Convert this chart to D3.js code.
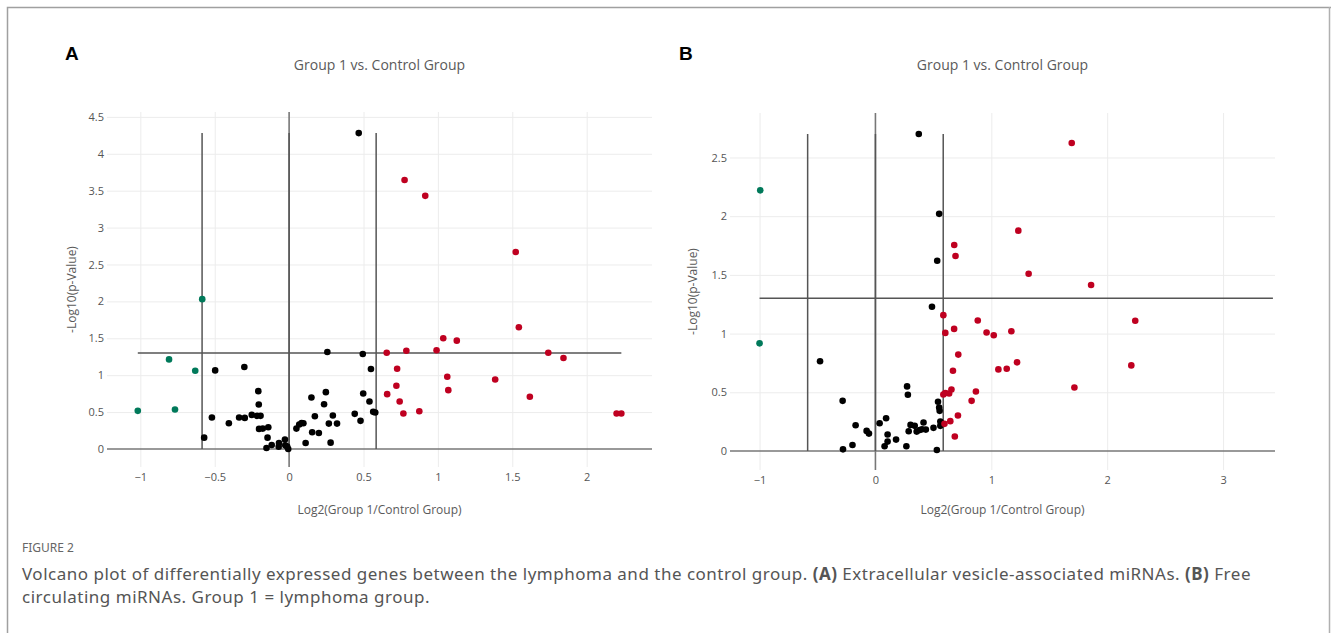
<!DOCTYPE html>
<html>
<head>
<meta charset="utf-8">
<script src="https://cdn.jsdelivr.net/npm/d3@7"></script>
<style>
  body { margin: 0; background: #fff; }
  svg { display: block; }
</style>
</head>
<body>
<div id="fig"></div>
<script>
// panel A: extracellular vesicle-associated miRNAs
var aRed = [[0.776,3.645],[0.915,3.43],[1.523,2.67],[0.656,1.305],[0.726,1.087],[0.788,1.332],
  [0.721,0.856],[0.659,0.743],[0.743,0.643],[0.768,0.48],[0.875,0.512],[0.991,1.337],[1.036,1.5],
  [1.127,1.468],[1.063,0.979],[1.07,0.797],[1.385,0.942],[1.544,1.649],[1.618,0.707],[1.742,1.305],
  [1.844,1.232],[2.201,0.48],[2.233,0.48]];
var aGreen = [[-0.584,2.03],[-0.807,1.214],[-0.631,1.06],[-1.017,0.517],[-0.767,0.535]];
var aBlack = [[0.468,4.28],[-0.571,0.154],[-0.519,0.426],[-0.497,1.065],[-0.405,0.349],[-0.336,0.426],
  [-0.301,1.11],[-0.298,0.421],[-0.251,0.462],[-0.207,0.784],[-0.204,0.603],[-0.216,0.449],[-0.192,0.449],
  [-0.202,0.272],[-0.177,0.276],[-0.14,0.295],[-0.145,0.154],[-0.152,0.014],[-0.117,0.054],[-0.068,0.082],
  [-0.07,0.032],[-0.028,0.127],[-0.026,0.05],[-0.013,0.032],[-0.006,0.0],[0.049,0.276],[0.068,0.331],
  [0.084,0.353],[0.096,0.349],[0.111,0.082],[0.15,0.698],[0.155,0.227],[0.173,0.444],[0.2,0.217],
  [0.235,0.607],[0.247,0.77],[0.257,1.314],[0.267,0.344],[0.279,0.086],[0.294,0.453],[0.322,0.344],
  [0.441,0.476],[0.48,0.381],[0.495,1.287],[0.498,0.752],[0.54,0.643],[0.55,1.083],[0.565,0.503],
  [0.579,0.494]];

// panel B: free circulating miRNAs
var bRed = [[1.694,2.624],[1.233,1.877],[0.68,1.755],[0.691,1.661],[1.322,1.51],[1.861,1.414],
  [0.586,1.157],[0.883,1.111],[0.603,1.006],[0.679,1.04],[0.959,1.009],[1.021,0.986],[1.173,1.02],
  [2.242,1.109],[0.715,0.821],[0.669,0.684],[1.061,0.695],[1.133,0.701],[1.222,0.755],[2.208,0.729],
  [1.717,0.541],[0.656,0.524],[0.636,0.49],[0.586,0.481],[0.603,0.493],[0.867,0.507],[0.83,0.427],
  [0.712,0.302],[0.646,0.254],[0.596,0.231],[0.685,0.123]];
var bGreen = [[-0.994,2.22],[-1.0,0.917]];
var bBlack = [[0.374,2.70],[0.55,2.02],[0.533,1.62],[0.488,1.228],[-0.478,0.764],[-0.283,0.427],
  [-0.28,0.014],[-0.198,0.051],[-0.171,0.219],[-0.076,0.171],[-0.056,0.148],[0.036,0.236],[0.079,0.04],
  [0.092,0.279],[0.105,0.14],[0.105,0.08],[0.178,0.097],[0.267,0.04],[0.273,0.55],[0.28,0.479],
  [0.287,0.168],[0.303,0.222],[0.339,0.214],[0.356,0.165],[0.382,0.179],[0.402,0.185],[0.415,0.242],
  [0.435,0.182],[0.501,0.197],[0.53,0.009],[0.54,0.419],[0.55,0.37],[0.554,0.342],[0.56,0.251],
  [0.56,0.214],[0.57,0.236]];

var aXTicks = [-1, -0.5, 0, 0.5, 1, 1.5, 2];
var aYTicks = [0, 0.5, 1, 1.5, 2, 2.5, 3, 3.5, 4, 4.5];
var bXTicks = [-1, 0, 1, 2, 3];
var bYTicks = [0, 0.5, 1, 1.5, 2, 2.5];

var fcCut = Math.log2(1.5);      // fold-change threshold
var pCut = -Math.log10(0.05);    // p-value threshold
var aHLine = [-1.017, 2.233], aVTop = 4.28;
var bHLine = [-1.0, 3.43], bVTop = 2.70;

var W = 1331, H = 633;
var svg = d3.select("#fig").append("svg").attr("width", W).attr("height", H);

svg.append("path")
   .attr("d", "M7.5," + H + "V7.5H" + W)
   .attr("fill", "none").attr("stroke", "#a0a0a0").attr("stroke-width", 1.5);
svg.append("line").attr("x1", 1329.5).attr("x2", 1329.5).attr("y1", 7).attr("y2", H)
   .attr("stroke", "#b0b0b0").attr("stroke-width", 1.5);

var fmt = d3.format("~g");
var font = "'Open Sans', Verdana, sans-serif";

function panel(o) {
  var x = d3.scaleLinear().domain(o.xDom).range([o.left, o.right]);
  var y = d3.scaleLinear().domain(o.yDom).range([o.bottom, o.top]);
  var g = svg.append("g");

  // grid
  g.append("g").attr("transform", "translate(0," + o.bottom + ")")
    .call(d3.axisBottom(x).tickValues(o.xTicks).tickSize(-(o.bottom - o.top)).tickFormat(fmt).tickPadding(6))
    .call(function(s) {
      s.select(".domain").remove();
      s.selectAll(".tick line").attr("stroke", "#ececec").attr("stroke-width", 1)
        .filter(function(d) { return d === 0; }).remove();
      s.selectAll(".tick text").attr("fill", "#555").style("font-family", font).style("font-size", "11px");
    });
  g.append("g").attr("transform", "translate(" + o.left + ",0)")
    .call(d3.axisLeft(y).tickValues(o.yTicks).tickSize(-(o.right - o.left)).tickFormat(fmt).tickPadding(3))
    .call(function(s) {
      s.select(".domain").remove();
      s.selectAll(".tick line").attr("stroke", "#ececec").attr("stroke-width", 1)
        .filter(function(d) { return d === 0; }).remove();
      s.selectAll(".tick text").attr("fill", "#555").style("font-family", font).style("font-size", "11px");
    });

  // zero lines
  g.append("line").attr("x1", o.left).attr("x2", o.right).attr("y1", y(0)).attr("y2", y(0))
    .attr("stroke", "#777").attr("stroke-width", 1.6);
  g.append("line").attr("x1", x(0)).attr("x2", x(0)).attr("y1", o.top).attr("y2", o.bottom)
    .attr("stroke", "#777").attr("stroke-width", 1.6);

  // threshold lines
  var th = g.append("g").attr("stroke", "#555").attr("stroke-width", 1.5);
  [-fcCut, 0, fcCut].forEach(function(v) {
    th.append("line").attr("x1", x(v)).attr("x2", x(v)).attr("y1", y(0)).attr("y2", y(o.vTop));
  });
  th.append("line").attr("x1", x(o.hLine[0])).attr("x2", x(o.hLine[1])).attr("y1", y(pCut)).attr("y2", y(pCut));

  // points
  [[o.black, "#000"], [o.green, "#00795a"], [o.red, "#bf0020"]].forEach(function(s) {
    g.append("g").selectAll("circle").data(s[0]).enter().append("circle")
      .attr("cx", function(d) { return x(d[0]); })
      .attr("cy", function(d) { return y(d[1]); })
      .attr("r", 3.3).attr("fill", s[1]);
  });

  var cx = (o.left + o.right) / 2, cy = (o.top + o.bottom) / 2;
  g.append("text").attr("x", cx).attr("y", 70).attr("text-anchor", "middle")
    .style("font-family", font).style("font-size", "14px").attr("fill", "#5a5a5a").text(o.title);
  g.append("text").attr("x", cx).attr("y", 514).attr("text-anchor", "middle")
    .style("font-family", font).style("font-size", "12px").attr("fill", "#5a5a5a").text(o.xTitle);
  g.append("text").attr("transform", "translate(" + o.yTitleX + "," + cy + ") rotate(-90)")
    .attr("text-anchor", "middle")
    .style("font-family", font).style("font-size", "12px").attr("fill", "#5a5a5a").text(o.yTitle);
  g.append("text").attr("x", o.letterX).attr("y", 60)
    .style("font-family", "Arial, 'Liberation Sans', sans-serif").style("font-size", "19px")
    .style("font-weight", "bold").attr("fill", "#000").text(o.letter);
}

panel({ xDom: [-1.224, 2.439], yDom: [-0.244, 4.566], left: 107, right: 652, top: 112, bottom: 467,
  xTicks: aXTicks, yTicks: aYTicks, red: aRed, green: aGreen, black: aBlack,
  hLine: aHLine, vTop: aVTop, title: "Group 1 vs. Control Group", xTitle: "Log2(Group 1/Control Group)",
  yTitle: "-Log10(p-Value)", yTitleX: 76, letter: "A", letterX: 65 });
panel({ xDom: [-1.255, 3.448], yDom: [-0.162, 2.879], left: 730, right: 1275, top: 113, bottom: 470,
  xTicks: bXTicks, yTicks: bYTicks, red: bRed, green: bGreen, black: bBlack,
  hLine: bHLine, vTop: bVTop, title: "Group 1 vs. Control Group", xTitle: "Log2(Group 1/Control Group)",
  yTitle: "-Log10(p-Value)", yTitleX: 697, letter: "B", letterX: 679 });

// caption
var cap = svg.append("g").style("font-family", "'Noto Sans', 'Open Sans', sans-serif");
cap.append("text").attr("x", 22).attr("y", 552).attr("fill", "#666").style("font-size", "12px")
  .text("FIGURE 2");
var l1 = cap.append("text").attr("x", 22).attr("y", 580).attr("fill", "#555").style("font-size", "17px");
l1.append("tspan").text("Volcano plot of differentially expressed genes between the lymphoma and the control group. ");
l1.append("tspan").style("font-weight", "bold").text("(A)");
l1.append("tspan").text(" Extracellular vesicle-associated miRNAs. ");
l1.append("tspan").style("font-weight", "bold").text("(B)");
l1.append("tspan").text(" Free");
var l2 = cap.append("text").attr("x", 22).attr("y", 603).attr("fill", "#555").style("font-size", "17px")
  .text("circulating miRNAs. Group 1 = lymphoma group.");

// stretch the first caption line to the reference width, reuse the spacing on line 2
var n1 = l1.text().length, len1 = l1.node().getComputedTextLength();
var ls = (1229 - len1) / n1;
l1.style("letter-spacing", ls + "px");
l2.style("letter-spacing", ls + "px");
</script>
</body>
</html>
